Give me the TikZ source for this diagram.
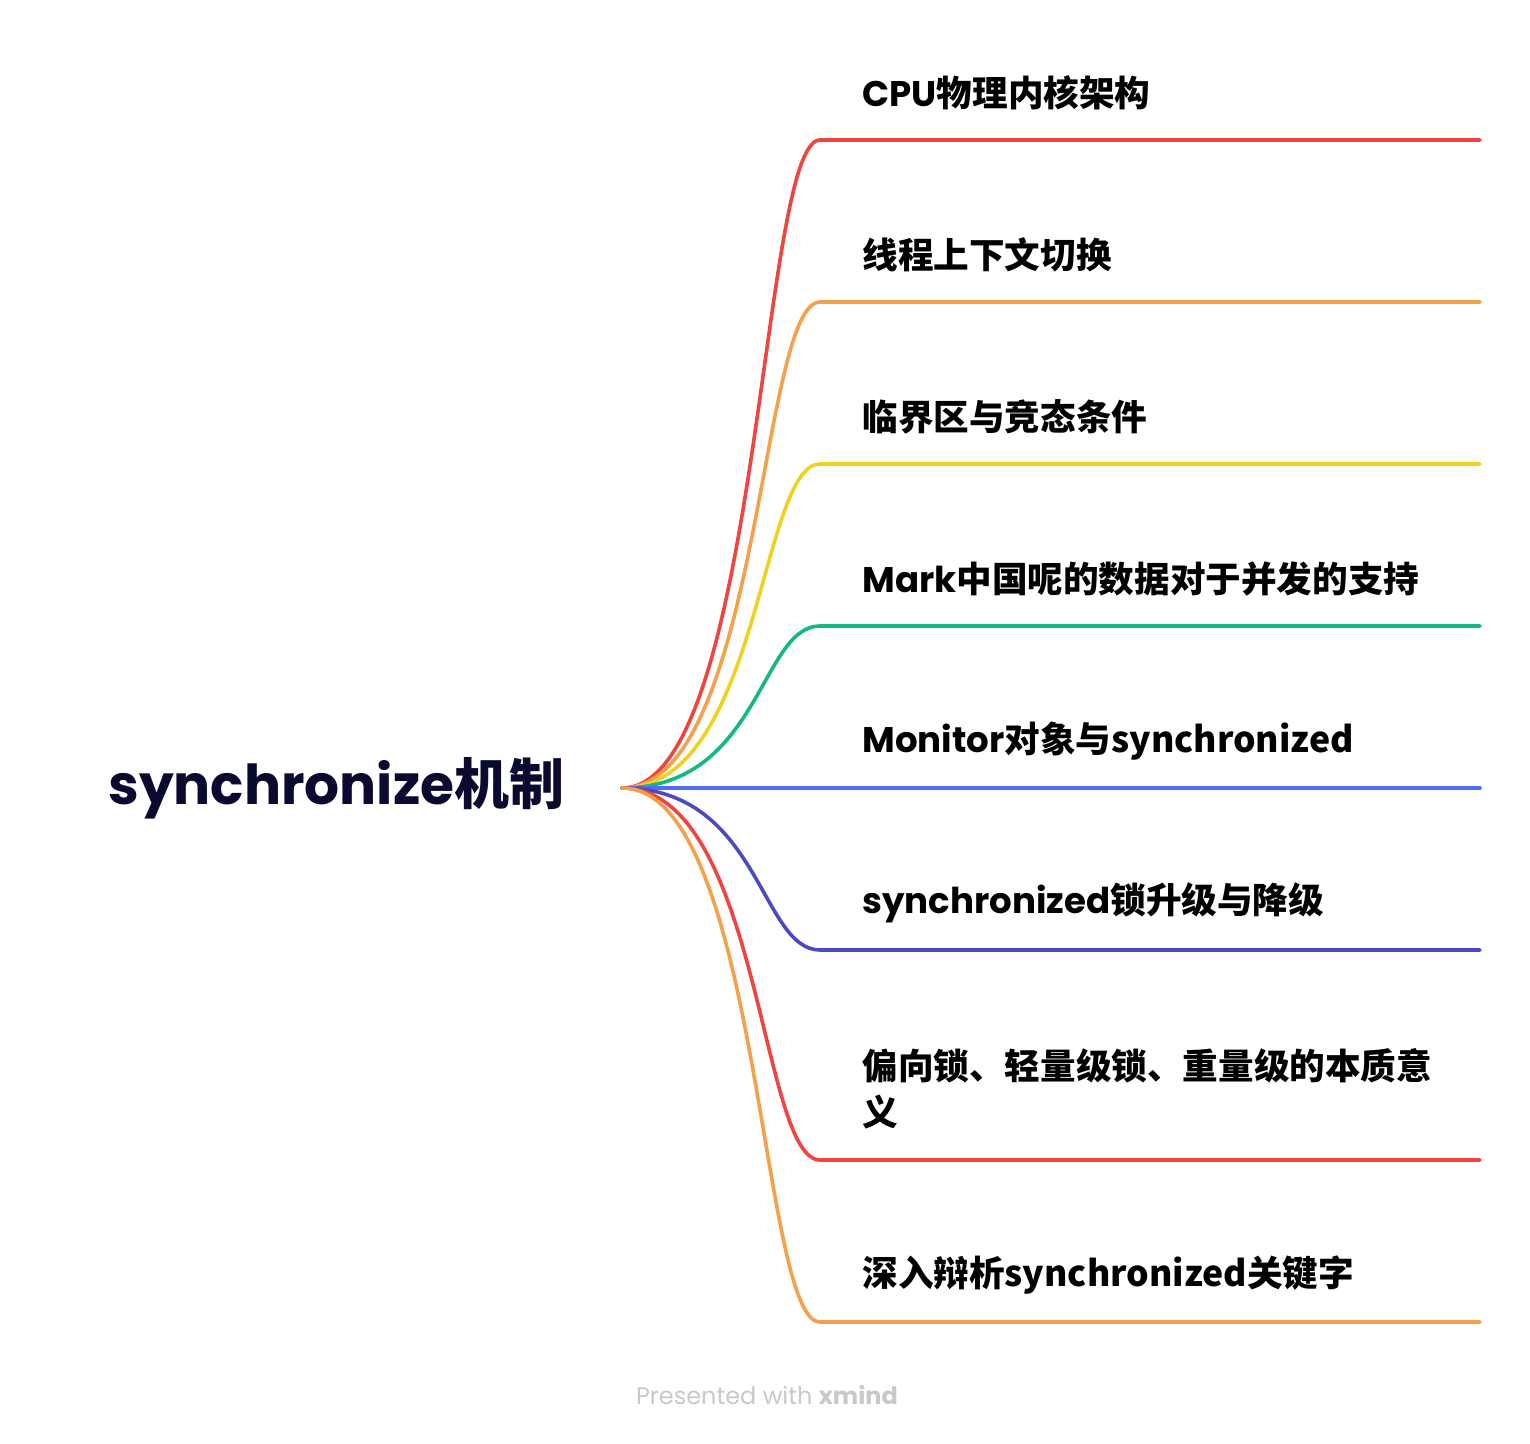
\documentclass[tikz,border=0pt]{standalone}
\usepackage{fontspec}
\setmainfont{Poppins}
\newfontfamily\cjk{Noto Sans CJK SC}
\usetikzlibrary{calc}
\definecolor{cRed}{HTML}{F0443E}
\definecolor{cOrange}{HTML}{F5A04A}
\definecolor{cYellow}{HTML}{EFD21F}
\definecolor{cGreen}{HTML}{13B980}
\definecolor{cBlue}{HTML}{4F6EF5}
\definecolor{cIndigo}{HTML}{4A4AC2}
\definecolor{cRoot}{HTML}{0A0A30}
\definecolor{cFoot}{HTML}{C8C8C8}
\begin{document}
\begin{tikzpicture}[x=0.5pt,y=-0.5pt,
  branch/.style={line width=1.8pt,line cap=round},
  leaf/.style={anchor=west,inner sep=0pt,font=\fontsize{17.8}{23}\selectfont\bfseries,text=black},
  rootnode/.style={anchor=west,inner sep=0pt,font=\fontsize{27.5}{34}\selectfont\bfseries,text=cRoot},
]
\useasboundingbox (0,0) rectangle (1530,1444);
\node[rootnode] (root) at (108,788) {synchronize\cjk{机制}};
\coordinate (o) at (622,788);

\node[leaf] (t1) at (862,93) {CPU\cjk{物理内核架构}};
\node[leaf] (t2) at (862,255) {\cjk{线程上下文切换}};
\node[leaf] (t3) at (862,417) {\cjk{临界区与竞态条件}};
\node[leaf] (t4) at (862,579) {Mark\cjk{中国呢的数据对于并发的支持}};
\node[leaf] (t5) at (862,741) {Monitor\cjk{对象与}synchronized};
\node[leaf] (t6) at (862,903) {synchronized\cjk{锁升级与降级}};
\node[leaf,align=left] (t7) at (862,1089) {\cjk{偏向锁、轻量级锁、重量级的本质意}\\\cjk{义}};
\node[leaf] (t8) at (862,1275) {\cjk{深入辩析}synchronized\cjk{关键字}};

\foreach \i/\y in {1/140,2/302,3/464,4/626,5/788,6/950,7/1160,8/1322}{
  \coordinate (c\i) at (820,\y);
  \coordinate (e\i) at (1480,\y);
}

\draw[branch,cRed] (o) .. controls ($(o)+(138,0)$) and ($(c1)+(-60,0)$) .. (c1) -- (e1);
\draw[branch,cOrange] (o) .. controls ($(o)+(138,0)$) and ($(c2)+(-60,0)$) .. (c2) -- (e2);
\draw[branch,cYellow] (o) .. controls ($(o)+(138,0)$) and ($(c3)+(-60,0)$) .. (c3) -- (e3);
\draw[branch,cGreen] (o) .. controls ($(o)+(138,0)$) and ($(c4)+(-60,0)$) .. (c4) -- (e4);
\draw[branch,cBlue] (o) -- (c5) -- (e5);
\draw[branch,cIndigo] (o) .. controls ($(o)+(138,0)$) and ($(c6)+(-60,0)$) .. (c6) -- (e6);
\draw[branch,cRed] (o) .. controls ($(o)+(138,0)$) and ($(c7)+(-60,0)$) .. (c7) -- (e7);
\draw[branch,cOrange] (o) .. controls ($(o)+(138,0)$) and ($(c8)+(-60,0)$) .. (c8) -- (e8);

\node[inner sep=0pt,font=\fontsize{12}{14}\selectfont,text=cFoot] (foot) at (767,1395) {Presented with \textbf{xmind}};
\end{tikzpicture}
\end{document}
